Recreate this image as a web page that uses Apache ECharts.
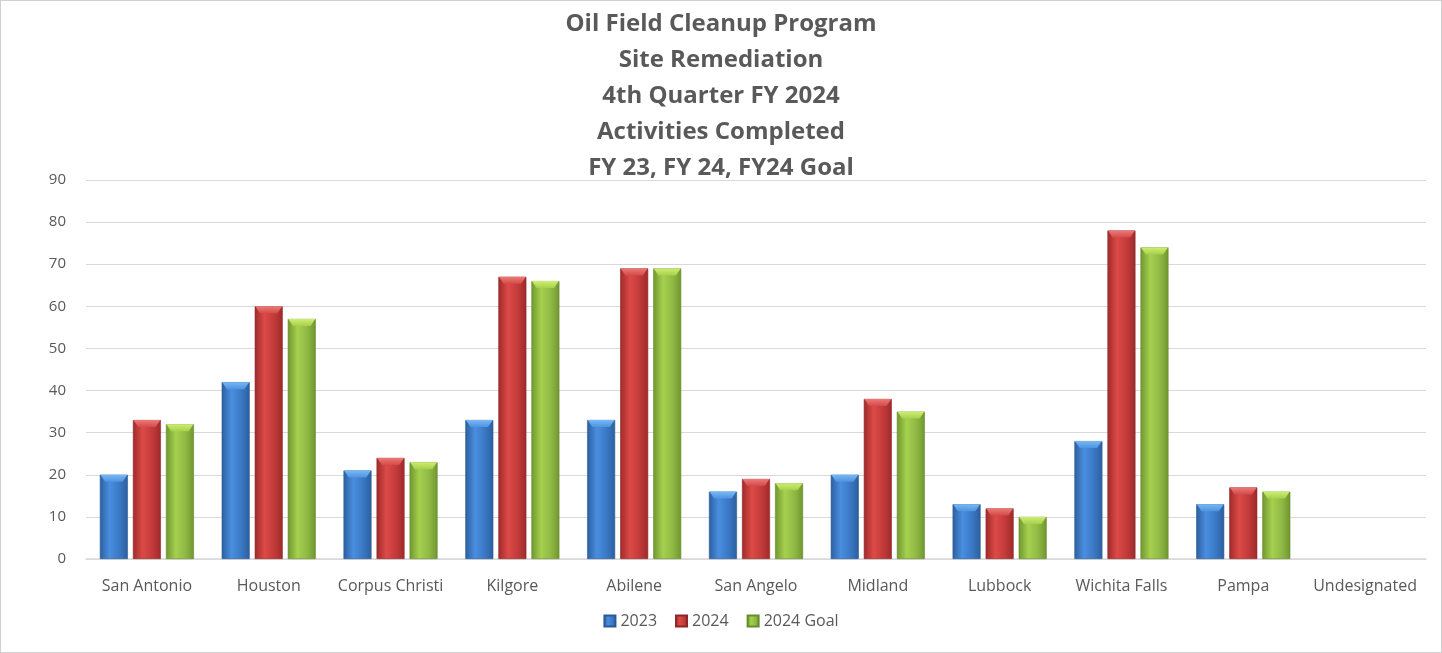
<!DOCTYPE html>
<html>
<head>
<meta charset="utf-8">
<title>Oil Field Cleanup Program</title>
<script src="https://cdn.jsdelivr.net/npm/echarts@6/dist/echarts.min.js"></script>
<style>
  html, body { margin: 0; padding: 0; background: #fff; }
  #chart { width: 1440px; height: 651px; border: 1px solid #d0d0d0; }
</style>
</head>
<body>
<div id="chart"></div>
<script>
  // site names along the x axis
  const sites = ['San Antonio', 'Houston', 'Corpus Christi', 'Kilgore', 'Abilene',
    'San Angelo', 'Midland', 'Lubbock', 'Wichita Falls', 'Pampa', 'Undesignated']
  // activities completed
  const fy2023 = [20, 42, 21, 33, 33, 16, 20, 13, 28, 13, 0]
  const fy2024 = [33, 60, 24, 67, 69, 19, 38, 12, 78, 17, 0]
  const goal2024 = [32, 57, 23, 66, 69, 18, 35, 10, 74, 16, 0]
  const titleLines = ['Oil Field Cleanup Program', 'Site Remediation', '4th Quarter FY 2024',
    'Activities Completed', 'FY 23, FY 24, FY24 Goal']

  const font = '"Open Sans", sans-serif'
  const BAR_W = 28

  // nothing is drawn for an empty value (Excel leaves zero bars blank)
  const blankZero = arr => arr.map(v => (v === 0 ? '-' : v))

  // horizontal shading so the bars look rounded like the office chart
  function shade (dark, mid, light) {
    return {
      type: 'linear', x: 0, y: 0, x2: 1, y2: 0,
      colorStops: [
        {offset: 0, color: dark},
        {offset: 0.35, color: light},
        {offset: 0.7, color: mid},
        {offset: 1, color: dark}
      ]
    }
  }

  function barSeries (name, data, fill, edge) {
    return {
      name: name,
      type: 'bar',
      data: blankZero(data),
      barWidth: BAR_W,
      barGap: '18%',
      itemStyle: {
        color: fill,
        borderColor: edge,
        borderWidth: 0.6
      }
    }
  }

  // the bevelled light strip on top of every bar
  function capSeries (name, data, light, dark) {
    return {
      name: name,
      type: 'pictorialBar',
      data: blankZero(data),
      barWidth: BAR_W,
      barGap: '18%',
      symbol: 'path://M0,0 L28,0 L23,7 L5,7 Z',
      symbolSize: [BAR_W - 1, 7],
      symbolPosition: 'end',
      z: 3,
      silent: true,
      itemStyle: {
        color: {
          type: 'linear', x: 0, y: 0, x2: 0, y2: 1,
          colorStops: [{offset: 0, color: light}, {offset: 1, color: dark}]
        }
      }
    }
  }

  const chart = echarts.init(document.getElementById('chart'))
  chart.setOption({
    animation: false,
    title: {
      text: titleLines.join('\n'),
      left: 'center',
      top: 0,
      textStyle: {
        fontFamily: font,
        fontWeight: 'bold',
        fontSize: 24,
        lineHeight: 36,
        color: '#595959'
      }
    },
    legend: {
      bottom: 18,
      left: 'center',
      itemWidth: 11,
      itemHeight: 11,
      itemGap: 18,
      icon: 'rect',
      textStyle: { fontFamily: font, fontSize: 16, color: '#595959' },
      data: ['2023', '2024', '2024 Goal']
    },
    grid: { left: 85, right: 15, top: 179, bottom: 93 },
    xAxis: {
      type: 'category',
      data: sites,
      axisTick: { show: false },
      axisLine: { lineStyle: { color: '#d9d9d9', width: 1.5 } },
      axisLabel: { fontFamily: font, fontSize: 16, color: '#595959', margin: 19, interval: 0 }
    },
    yAxis: {
      type: 'value',
      min: 0,
      max: 90,
      interval: 10,
      axisLine: { show: false },
      axisTick: { show: false },
      axisLabel: { fontFamily: font, fontSize: 15, color: '#595959', margin: 20 },
      splitLine: { lineStyle: { color: '#d9d9d9' } }
    },
    series: [
      barSeries('2023', fy2023, shade('#2c5f9e', '#3a78c4', '#4a8ee0'), '#2a5a94'),
      barSeries('2024', fy2024, shade('#9e2a2a', '#c23a3a', '#dc4a47'), '#8e2626'),
      barSeries('2024 Goal', goal2024, shade('#6f9630', '#8fb944', '#a6d04e'), '#678c2c'),
      capSeries('2023', fy2023, '#78b8f5', '#4f93e0'),
      capSeries('2024', fy2024, '#ec7a78', '#d44a48'),
      capSeries('2024 Goal', goal2024, '#cdee72', '#a8d04c')
    ]
  })
</script>
</body>
</html>
